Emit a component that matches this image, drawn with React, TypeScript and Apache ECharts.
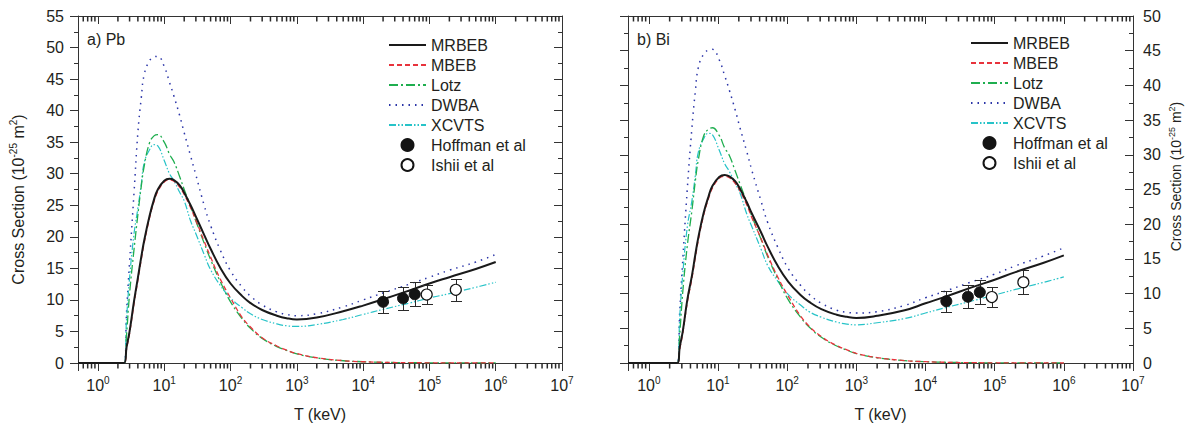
import React, { useEffect, useRef } from 'react';
import * as echarts from 'echarts';

// ---------- data ----------
const tPb = [0.5, 2.48, 2.7, 3, 3.5, 4, 4.5, 5, 6, 7, 8, 10, 12, 14, 17, 20, 25, 30, 40, 50, 70, 100, 150, 200, 300, 500, 700, 1000, 2000, 5000, 1e4, 2e4, 5e4, 1e5, 2e5, 5e5, 1e6];
const pbMRBEB = [0, 0, 2.5, 5.0, 9.8, 13.5, 16.8, 19.5, 23.3, 25.9, 27.5, 28.9, 29.2, 29.0, 28.2, 27.0, 25.0, 23.2, 20.3, 18.1, 15.1, 12.6, 10.6, 9.5, 8.4, 7.5, 7.1, 6.9, 7.2, 8.2, 9.1, 10.1, 11.5, 12.6, 13.6, 14.9, 16.0];
const pbMBEB = [0, 0, 2.2, 4.7, 9.4, 13.1, 16.4, 19.1, 23.0, 25.6, 27.2, 28.7, 29.0, 28.8, 27.9, 26.7, 24.6, 22.6, 19.3, 16.8, 13.3, 10.3, 7.2, 5.7, 4.0, 2.7, 2.05, 1.5, 0.83, 0.37, 0.2, 0.11, 0.05, 0.03, 0.015, 0.007, 0.004];
const pbLotz = [0, 0, 4.5, 11.0, 18.0, 23.5, 28.0, 31.3, 34.9, 36.0, 36.2, 35.0, 33.1, 31.9, 29.6, 27.5, 24.8, 22.5, 19.0, 16.4, 12.9, 9.7, 7.0, 5.5, 3.9, 2.6, 2.0, 1.45, 0.8, 0.36, 0.2, 0.11, 0.05, 0.03, 0.015, 0.007, 0.004];
const pbDWBA = [0, 0, 8.0, 16.0, 27.0, 36.5, 42.0, 45.8, 47.9, 48.5, 48.6, 47.0, 44.5, 42.3, 39.3, 36.5, 32.8, 29.8, 25.0, 21.8, 17.9, 14.6, 12.0, 10.6, 9.2, 8.1, 7.7, 7.5, 7.8, 8.9, 10.0, 11.1, 12.5, 13.6, 14.7, 16.0, 17.2];
const pbXCVTS = [0, 0, 7.0, 13.5, 20.5, 24.5, 28.3, 31.8, 33.8, 34.6, 34.4, 32.1, 30.0, 28.9, 27.1, 25.7, 22.5, 20.5, 17.2, 14.8, 12.3, 10.3, 8.75, 7.8, 6.9, 6.2, 5.9, 5.8, 6.1, 6.9, 7.7, 8.5, 9.5, 10.3, 11.0, 12.0, 12.8];

const tBi = [0.5, 2.58, 2.8, 3.1, 3.6, 4.2, 4.7, 5.2, 6.2, 7.3, 8.3, 10.4, 12.5, 14.6, 17.7, 20.8, 26, 31, 42, 52, 73, 104, 156, 208, 312, 520, 730, 1000, 2000, 5000, 1e4, 2e4, 5e4, 1e5, 2e5, 5e5, 1e6];
const biMRBEB = [0, 0, 2.3, 4.6, 9.1, 12.6, 15.6, 18.1, 21.6, 24.0, 25.5, 26.8, 27.1, 26.9, 26.2, 25.1, 23.2, 21.5, 18.8, 16.8, 14.0, 11.7, 9.8, 8.8, 7.75, 6.95, 6.65, 6.5, 6.8, 7.6, 8.6, 9.6, 11.0, 12.0, 13.1, 14.4, 15.5];
const biMBEB = [0, 0, 2.0, 4.3, 8.7, 12.2, 15.2, 17.7, 21.3, 23.7, 25.2, 26.6, 26.9, 26.7, 25.9, 24.8, 22.8, 20.9, 17.9, 15.6, 12.4, 9.6, 6.8, 5.3, 3.8, 2.5, 1.9, 1.4, 0.78, 0.34, 0.19, 0.1, 0.045, 0.025, 0.013, 0.006, 0.003];
const biLotz = [0, 0, 4.2, 10.3, 16.9, 22.0, 26.2, 29.3, 32.7, 33.7, 33.9, 32.8, 31.0, 29.9, 27.7, 25.8, 23.2, 21.1, 17.8, 15.4, 12.1, 9.1, 6.6, 5.2, 3.7, 2.45, 1.85, 1.35, 0.75, 0.34, 0.19, 0.1, 0.045, 0.025, 0.013, 0.006, 0.003];
const biDWBA = [0, 0, 7.4, 14.9, 25.1, 33.9, 39.1, 42.6, 44.5, 45.1, 45.2, 43.7, 41.4, 39.3, 36.5, 33.9, 30.5, 27.7, 23.3, 20.3, 16.7, 13.6, 11.2, 9.9, 8.6, 7.6, 7.3, 7.2, 7.4, 8.3, 9.4, 10.4, 11.8, 12.8, 14.0, 15.4, 16.6];
const biXCVTS = [0, 0, 6.7, 12.9, 19.6, 23.4, 27.0, 30.4, 32.3, 33.1, 32.9, 30.7, 28.7, 27.6, 25.9, 24.5, 21.5, 19.6, 16.4, 14.1, 11.8, 9.85, 8.35, 7.4, 6.6, 5.9, 5.6, 5.5, 5.8, 6.4, 7.2, 8.0, 9.0, 9.8, 10.6, 11.6, 12.4];

const pbHoffmanT = [2.0e4, 4.0e4, 6.0e4];
const pbHoffmanS = [9.7, 10.25, 10.9];
const pbHoffmanE = [1.75, 1.85, 1.9];
const pbIshiiT = [9.1e4, 2.5e5];
const pbIshiiS = [10.85, 11.6];
const pbIshiiE = [1.55, 1.7];

const biHoffmanT = [2.0e4, 4.1e4, 6.1e4];
const biHoffmanS = [8.9, 9.55, 10.2];
const biHoffmanE = [1.5, 1.65, 1.75];
const biIshiiT = [9.1e4, 2.6e5];
const biIshiiS = [9.5, 11.65];
const biIshiiE = [1.5, 1.75];

const legendNames = ['MRBEB', 'MBEB', 'Lotz', 'DWBA', 'XCVTS', 'Hoffman et al', 'Ishii et al'];
const panelLabels = ['a) Pb', 'b) Bi'];
const yMaxes = [55, 50];
const xMin = 0.5;
const xMax = 1e7;
// minor tick positions of the log axis (keV)
const minorTicks = [
  0.6, 0.7, 0.8, 0.9,
  2, 3, 4, 5, 6, 7, 8, 9,
  20, 30, 40, 50, 60, 70, 80, 90,
  200, 300, 400, 500, 600, 700, 800, 900,
  2000, 3000, 4000, 5000, 6000, 7000, 8000, 9000,
  2e4, 3e4, 4e4, 5e4, 6e4, 7e4, 8e4, 9e4,
  2e5, 3e5, 4e5, 5e5, 6e5, 7e5, 8e5, 9e5,
  2e6, 3e6, 4e6, 5e6, 6e6, 7e6, 8e6, 9e6,
];

// ---------- styles ----------
const FONT = "'Liberation Sans', Arial, Helvetica, sans-serif";
const AXIS = '#333333';
const TXT = '#231f20';

const lineStyles: Record<string, any> = {
  MRBEB: { color: '#1a1a1a', width: 2, type: 'solid' },
  MBEB: { color: '#e8333c', width: 1.3, type: [5, 3] },
  Lotz: { color: '#1fae4f', width: 1.3, type: [9, 3, 2, 3] },
  DWBA: { color: '#2b35a8', width: 1.5, type: [1.5, 5] },
  XCVTS: { color: '#27c3c8', width: 1.2, type: [7, 2, 1.5, 2, 1.5, 2] },
};

function xLabelFormatter(v: number): string {
  const l = Math.log10(v);
  const p = Math.round(l);
  if (Math.abs(l - p) > 1e-6) return '';
  return `{b|10}{s|${p}}`;
}

const supRich = {
  b: { fontSize: 16, fontFamily: FONT, color: TXT, lineHeight: 20 },
  s: { fontSize: 10, fontFamily: FONT, color: TXT, lineHeight: 10, verticalAlign: 'top' },
};

function yNameRich(size: number, sup: number) {
  return {
    n: { fontSize: size, fontFamily: FONT, color: TXT, lineHeight: size + 4 },
    s: { fontSize: sup, fontFamily: FONT, color: TXT, lineHeight: sup, verticalAlign: 'top' },
  };
}

function zip(t: number[], v: number[]) {
  return t.map((x, i) => [x, v[i]]);
}
function zip3(t: number[], v: number[], e: number[]) {
  return t.map((x, i) => [x, v[i], e[i]]);
}
const crisp = (v: number) => Math.round(v) + 0.5;

function buildOption() {
  const grids = [
    { left: 78, top: 16, width: 484, height: 347 },
    { left: 628, top: 16, width: 505, height: 347 },
  ];
  const xAxes: any[] = [];
  const yAxes: any[] = [];
  const series: any[] = [];
  const lineAx = { show: true, onZero: false, lineStyle: { color: AXIS, width: 1 } };
  const tickLS = { color: AXIS, width: 1 };

  const panels = [
    { t: tPb, MRBEB: pbMRBEB, MBEB: pbMBEB, Lotz: pbLotz, DWBA: pbDWBA, XCVTS: pbXCVTS,
      hT: pbHoffmanT, hS: pbHoffmanS, hE: pbHoffmanE, iT: pbIshiiT, iS: pbIshiiS, iE: pbIshiiE },
    { t: tBi, MRBEB: biMRBEB, MBEB: biMBEB, Lotz: biLotz, DWBA: biDWBA, XCVTS: biXCVTS,
      hT: biHoffmanT, hS: biHoffmanS, hE: biHoffmanE, iT: biIshiiT, iS: biIshiiS, iE: biIshiiE },
  ];

  panels.forEach((p: any, g) => {
    const yTop = yMaxes[g];
    const xMainIdx = xAxes.length;
    xAxes.push({
      gridIndex: g, type: 'log', logBase: 10, min: xMin, max: xMax, position: 'bottom',
      axisLine: lineAx, axisTick: { show: true, inside: false, length: 8, lineStyle: tickLS },
      axisLabel: { formatter: xLabelFormatter, margin: 12, rich: supRich, showMinLabel: true, showMaxLabel: true },
      splitLine: { show: false },
      name: 'T (keV)', nameLocation: 'middle', nameGap: 43,
      nameTextStyle: { fontSize: 16, fontFamily: FONT, color: TXT },
    });
    xAxes.push({
      gridIndex: g, type: 'log', logBase: 10, min: xMin, max: xMax, position: 'top',
      axisLine: lineAx, axisTick: { show: true, inside: true, length: 8, lineStyle: tickLS },
      axisLabel: { show: false }, splitLine: { show: false },
    });

    const yLeftIdx = yAxes.length;
    const yName = '{n|Cross Section (10}{s|-25}{n| m}{s|2}{n|)}';
    yAxes.push({
      gridIndex: g, type: 'value', min: 0, max: yTop, interval: 5, position: 'left',
      axisLine: lineAx,
      axisTick: { show: true, inside: false, length: 8, lineStyle: tickLS },
      minorTick: { show: true, splitNumber: 2, length: 4, lineStyle: tickLS },
      axisLabel: { show: g === 0, margin: 14, fontSize: 16, fontFamily: FONT, color: TXT },
      splitLine: { show: false },
      ...(g === 0 ? {
        name: yName, nameLocation: 'middle', nameGap: 50, nameRotate: 90,
        nameTextStyle: { rich: yNameRich(16, 10), padding: [0, 20, 0, 0] },
      } : {}),
    });
    yAxes.push({
      gridIndex: g, type: 'value', min: 0, max: yTop, interval: 5, position: 'right',
      axisLine: lineAx,
      axisTick: { show: true, inside: true, length: 8, lineStyle: tickLS },
      minorTick: { show: true, splitNumber: 2, length: 4, lineStyle: tickLS },
      axisLabel: { show: g === 1, margin: 10, fontSize: 16, fontFamily: FONT, color: TXT },
      splitLine: { show: false },
      ...(g === 1 ? {
        name: yName, nameLocation: 'middle', nameGap: 34, nameRotate: 90,
        nameTextStyle: { rich: yNameRich(14, 9), padding: [0, 0, 0, 26] },
      } : {}),
    });

    // minor (log) ticks: bottom (outward) and top (inward), placed through the log axis
    series.push({
      type: 'scatter', name: 'minorB' + g, xAxisIndex: xMainIdx, yAxisIndex: yLeftIdx,
      data: minorTicks.map((v) => [v, 0]), symbol: 'rect', symbolSize: [1.5, 5.5], symbolOffset: [0, 2.75],
      itemStyle: { color: '#2a2a2a', opacity: 1 }, clip: false, silent: true, z: 2,
    });
    series.push({
      type: 'scatter', name: 'minorT' + g, xAxisIndex: xMainIdx, yAxisIndex: yLeftIdx,
      data: minorTicks.map((v) => [v, yTop]), symbol: 'rect', symbolSize: [1.5, 5.5], symbolOffset: [0, 2.75],
      itemStyle: { color: '#2a2a2a', opacity: 1 }, clip: false, silent: true, z: 2,
    });

    const drawOrder = ['DWBA', 'XCVTS', 'Lotz', 'MBEB', 'MRBEB'];
    drawOrder.forEach((name) => {
      series.push({
        type: 'line', name, xAxisIndex: xMainIdx, yAxisIndex: yLeftIdx,
        data: zip(p.t, p[name]), symbol: 'none', showSymbol: false,
        smooth: 0.45,
        lineStyle: lineStyles[name], itemStyle: { color: lineStyles[name].color },
        z: name === 'MRBEB' ? 4 : 3, silent: true,
      });
    });

    const errRender = (params: any, api: any) => {
      const xv = api.value(0);
      const y = api.value(1);
      const e = api.value(2);
      const top = api.coord([xv, y + e]);
      const bot = api.coord([xv, y - e]);
      const x = crisp(top[0]);
      const yt = crisp(top[1]);
      const yb = crisp(bot[1]);
      const hw = 5.5;
      const st = { stroke: '#2a2a2a', lineWidth: 1 };
      return {
        type: 'group',
        children: [
          { type: 'line', shape: { x1: x, y1: yt, x2: x, y2: yb }, style: st },
          { type: 'line', shape: { x1: x - hw, y1: yt, x2: x + hw, y2: yt }, style: st },
          { type: 'line', shape: { x1: x - hw, y1: yb, x2: x + hw, y2: yb }, style: st },
        ],
      };
    };
    series.push({
      type: 'custom', name: 'errH' + g, xAxisIndex: xMainIdx, yAxisIndex: yLeftIdx,
      data: zip3(p.hT, p.hS, p.hE), renderItem: errRender, encode: { x: 0, y: 1 }, z: 5, silent: true,
    });
    series.push({
      type: 'custom', name: 'errI' + g, xAxisIndex: xMainIdx, yAxisIndex: yLeftIdx,
      data: zip3(p.iT, p.iS, p.iE), renderItem: errRender, encode: { x: 0, y: 1 }, z: 5, silent: true,
    });
    series.push({
      type: 'scatter', name: 'Hoffman et al', xAxisIndex: xMainIdx, yAxisIndex: yLeftIdx,
      data: zip(p.hT, p.hS), symbol: 'circle', symbolSize: 11,
      itemStyle: { color: '#141414', borderColor: '#141414', borderWidth: 1, opacity: 1 }, z: 6, silent: true,
    });
    series.push({
      type: 'scatter', name: 'Ishii et al', xAxisIndex: xMainIdx, yAxisIndex: yLeftIdx,
      data: zip(p.iT, p.iS), symbol: 'circle', symbolSize: 11,
      itemStyle: { color: '#ffffff', borderColor: '#141414', borderWidth: 1.2, opacity: 1 }, z: 6, silent: true,
    });
  });

  const legendData = legendNames.map((n) =>
    lineStyles[n] ? { name: n, itemStyle: { opacity: 0 } } : { name: n, itemStyle: { opacity: 1 } }
  );
  const legendBase = {
    data: legendData, orient: 'vertical', itemWidth: 37, itemHeight: 12, itemGap: 4,
    selectedMode: false, padding: 0,
    textStyle: { fontSize: 16, lineHeight: 16, fontFamily: FONT, color: TXT },
  };

  return {
    animation: false,
    backgroundColor: '#ffffff',
    textStyle: { fontFamily: FONT },
    grid: grids,
    xAxis: xAxes,
    yAxis: yAxes,
    legend: [
      { ...legendBase, left: 388, top: 37 },
      { ...legendBase, left: 970, top: 35 },
    ],
    graphic: [
      { type: 'text', left: 87, top: 31, style: { text: panelLabels[0], fontSize: 16, fontFamily: FONT, fill: TXT } },
      { type: 'text', left: 637, top: 31, style: { text: panelLabels[1], fontSize: 16, fontFamily: FONT, fill: TXT } },
    ],
    series,
  };
}

export default function App() {
  const ref = useRef<HTMLDivElement>(null);
  useEffect(() => {
    document.body.style.margin = '0';
    if (!ref.current) return;
    const chart = echarts.init(ref.current, null, { renderer: 'svg' });
    chart.setOption(buildOption() as any);
    return () => chart.dispose();
  }, []);
  return <div ref={ref} style={{ position: 'fixed', left: 0, top: 0, width: 1186, height: 436, background: '#fff' }} />;
}
